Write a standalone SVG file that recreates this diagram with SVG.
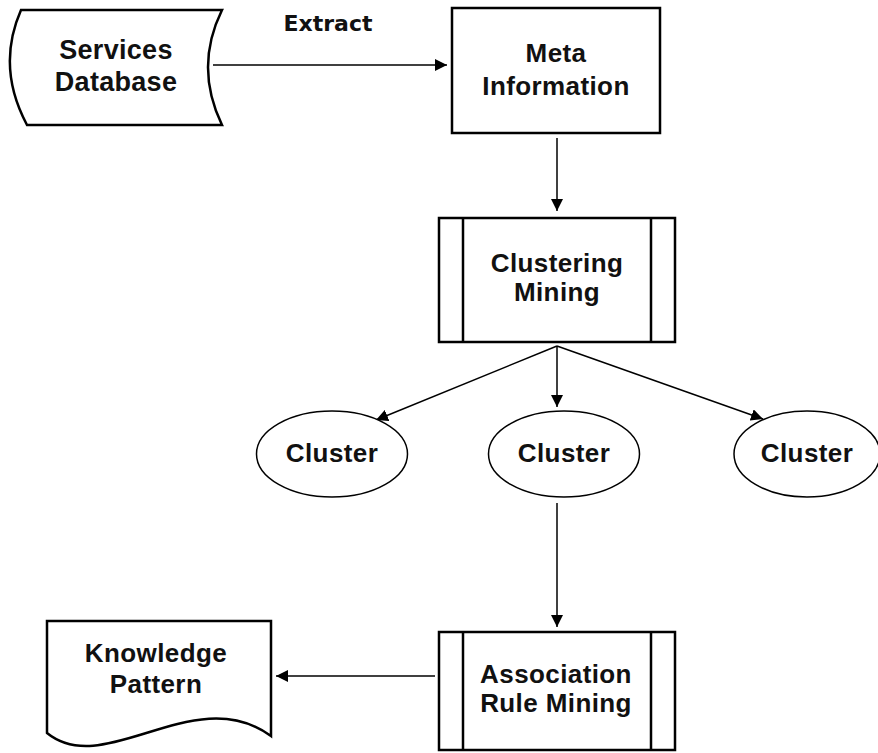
<svg xmlns="http://www.w3.org/2000/svg" width="878" height="753" viewBox="0 0 878 753">
  <style>
    .box { fill: #fff; stroke: #000; stroke-width: 2.5; }
    .oval { fill: #fff; stroke: #000; stroke-width: 1.5; }
    .label { font-family: "Liberation Sans", Arial, sans-serif; font-weight: bold; font-size: 26px; letter-spacing: 0.4px; text-anchor: middle; fill: #111; }
    .big { font-size: 27px; letter-spacing: 0.3px; }
    .edge-label { font-family: "DejaVu Sans", Verdana, sans-serif; font-weight: bold; font-size: 22px; text-anchor: middle; fill: #111; }
    .conn { stroke: #000; stroke-width: 1.5; fill: none; marker-end: url(#arrow); }
  </style>
  <defs>
    <marker id="arrow" markerUnits="userSpaceOnUse" markerWidth="12" markerHeight="12" refX="12" refY="6" orient="auto">
      <path d="M0,0 L12,6 L0,12 Z" fill="#000"/>
    </marker>
  </defs>
  <rect width="878" height="753" fill="#fff"/>

  <!-- connectors -->
  <g id="connectors">
    <line class="conn" x1="213" y1="65" x2="447" y2="65"/>
    <text class="edge-label" x="328" y="31">Extract</text>
    <line class="conn" x1="557" y1="138" x2="557" y2="211"/>
    <line class="conn" x1="557" y1="346" x2="376" y2="420"/>
    <line class="conn" x1="557" y1="346" x2="557" y2="407"/>
    <line class="conn" x1="557" y1="346" x2="763" y2="419"/>
    <line class="conn" x1="557" y1="503" x2="557" y2="627"/>
    <line class="conn" x1="435" y1="676" x2="276" y2="676"/>
  </g>

  <!-- stored data -->
  <g id="services-database">
    <path class="box" d="M21,10 L222,10 Q194,67 222,125 L27,125 Q-4,67 21,10 Z"/>
    <text class="label big" x="116" y="59">Services</text>
    <text class="label big" x="116" y="91">Database</text>
  </g>

  <g id="meta-information">
    <rect class="box" x="452" y="8" width="208" height="125"/>
    <text class="label" x="556" y="62">Meta</text>
    <text class="label" x="556" y="95">Information</text>
  </g>

  <g id="clustering-mining">
    <rect class="box" x="439" y="218" width="236" height="124"/>
    <line class="box" x1="463" y1="218" x2="463" y2="342"/>
    <line class="box" x1="651" y1="218" x2="651" y2="342"/>
    <text class="label" x="557" y="272">Clustering</text>
    <text class="label" x="557" y="301">Mining</text>
  </g>

  <g id="cluster-1">
    <ellipse class="oval" cx="332" cy="454" rx="75.5" ry="43"/>
    <text class="label" x="332" y="462">Cluster</text>
  </g>
  <g id="cluster-2">
    <ellipse class="oval" cx="564" cy="454" rx="75.5" ry="43"/>
    <text class="label" x="564" y="462">Cluster</text>
  </g>
  <g id="cluster-3">
    <ellipse class="oval" cx="807" cy="454" rx="73" ry="43"/>
    <text class="label" x="807" y="462">Cluster</text>
  </g>

  <g id="association-rule-mining">
    <rect class="box" x="439" y="632" width="236" height="118"/>
    <line class="box" x1="463" y1="632" x2="463" y2="750"/>
    <line class="box" x1="651" y1="632" x2="651" y2="750"/>
    <text class="label" x="556" y="683">Association</text>
    <text class="label" x="556" y="712">Rule Mining</text>
  </g>

  <!-- document shape -->
  <g id="knowledge-pattern">
    <path class="box" d="M47,621 L271,621 L271,736 C195,680 105,780 47,733 Z"/>
    <text class="label" x="156" y="662">Knowledge</text>
    <text class="label" x="156" y="693">Pattern</text>
  </g>
</svg>
